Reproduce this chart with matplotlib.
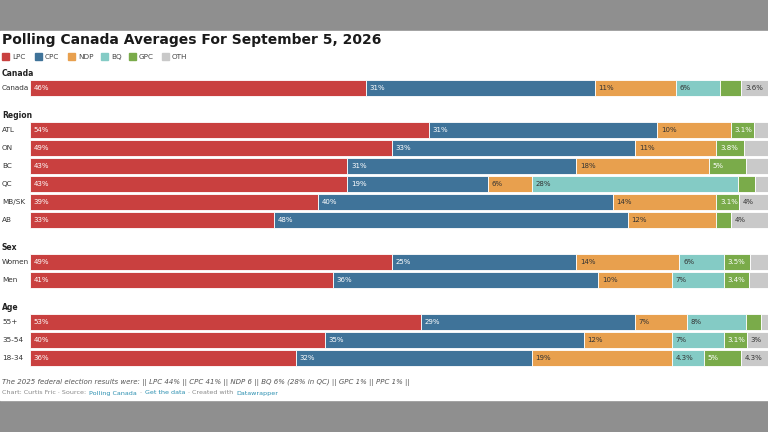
import matplotlib.pyplot as plt
import numpy as np

# party order and colours
parties = ["LPC", "CPC", "NDP", "BQ", "GPC", "OTH"]
colors = ["#c9403f", "#3f7399", "#e8a04e", "#84cbc5", "#7aab4a", "#c9c9c9"]
text_colors = ["white", "white", "#333333", "#333333", "white", "#333333"]

rows = ["Canada", "ATL", "ON", "BC", "QC", "MB/SK", "AB", "Women", "Men", "55+", "35-54", "18-34"]
row_y = [88, 130, 148, 166, 184, 202, 220, 262, 280, 322, 340, 358]
groups = ["Canada", "Region", "Sex", "Age"]
group_y = [73, 115, 247, 307]

LPC = [45.5, 54, 49, 43, 43, 39, 33, 49, 41, 53, 40, 36]
CPC = [31, 31, 33, 31, 19, 40, 48, 25, 36, 29, 35, 32]
NDP = [11, 10, 11, 18, 6, 14, 12, 14, 10, 7, 12, 19]
BQ = [6, 0, 0, 0, 28, 0, 0, 6, 7, 8, 7, 4.3]
GPC = [2.9, 3.1, 3.8, 5, 2.2, 3.1, 2, 3.5, 3.4, 2, 3.1, 5]
OTH = [3.6, 1.9, 3.2, 3, 1.8, 3.9, 5, 2.5, 2.6, 1, 2.9, 3.7]

LPC_lbl = ["46%", "54%", "49%", "43%", "43%", "39%", "33%", "49%", "41%", "53%", "40%", "36%"]
CPC_lbl = ["31%", "31%", "33%", "31%", "19%", "40%", "48%", "25%", "36%", "29%", "35%", "32%"]
NDP_lbl = ["11%", "10%", "11%", "18%", "6%", "14%", "12%", "14%", "10%", "7%", "12%", "19%"]
BQ_lbl = ["6%", "", "", "", "28%", "", "", "6%", "7%", "8%", "7%", "4.3%"]
GPC_lbl = ["", "3.1%", "3.8%", "5%", "", "3.1%", "", "3.5%", "3.4%", "", "3.1%", "5%"]
OTH_lbl = ["3.6%", "", "", "", "", "4%", "4%", "", "", "", "3%", "4.3%"]

W, H = 768, 432
fig = plt.figure(figsize=(W / 100, H / 100), dpi=100)
fig.patch.set_facecolor("#8f8f8f")
bg = fig.add_axes([0, 0, 1, 1])
bg.set_xlim(0, W)
bg.set_ylim(H, 0)
bg.axis("off")
bg.add_patch(plt.Rectangle((0, 31), W, 369, color="white"))

def fy(py):
    return 1 - py / H

fig.text(2 / W, fy(40), "Polling Canada Averages For September 5, 2026",
         fontsize=10, fontweight="bold", color="#1a1a1a", va="center")
lx = 2
for p, c in zip(parties, colors):
    bg.add_patch(plt.Rectangle((lx, 53), 7, 7, color=c))
    fig.text((lx + 10) / W, fy(57), p, fontsize=5.2, color="#444444", va="center")
    lx += 33 if len(p) == 3 else 28

for g, gy in zip(groups, group_y):
    fig.text(2 / W, fy(gy), g, fontsize=5.5, fontweight="bold", color="#222222", va="center")
for r, ry in zip(rows, row_y):
    fig.text(2 / W, fy(ry), r, fontsize=5.2, color="#333333", va="center")

ax = fig.add_axes([30 / W, 0, (W - 30) / W, 1])
ax.set_xlim(0, 100)
ax.set_ylim(H, 0)
ax.axis("off")

series = [LPC, CPC, NDP, BQ, GPC, OTH]
labels = [LPC_lbl, CPC_lbl, NDP_lbl, BQ_lbl, GPC_lbl, OTH_lbl]
left = np.zeros(len(rows))
for vals, lbls, c, tc in zip(series, labels, colors, text_colors):
    vals = np.array(vals, dtype=float)
    ax.barh(row_y, vals, left=left, height=16, color=c, edgecolor="white", linewidth=0.6)
    for y, l, v, t in zip(row_y, left, vals, lbls):
        if t:
            ax.text(l + 0.5, y, t, fontsize=5, color=tc, va="center", ha="left")
    left += vals

fig.text(2 / W, fy(382), "The 2025 federal election results were: || LPC 44% || CPC 41% || NDP 6 || BQ 6% (28% in QC) || GPC 1% || PPC 1% ||",
         fontsize=5, style="italic", color="#555555", va="center")

# source line, pieces placed one after another
pieces = [("Chart: Curtis Fric \u00b7 Source: ", "#888888"), ("Polling Canada", "#2a8fb0"),
          (" \u00b7 ", "#888888"), ("Get the data", "#2a8fb0"),
          (" \u00b7 Created with ", "#888888"), ("Datawrapper", "#2a8fb0")]
renderer = fig.canvas.get_renderer()
x = 2
for s, c in pieces:
    t = fig.text(x / W, fy(393), s, fontsize=4.6, color=c, va="center")
    x += t.get_window_extent(renderer).width + 1

fig.savefig("out.png", dpi=100)
